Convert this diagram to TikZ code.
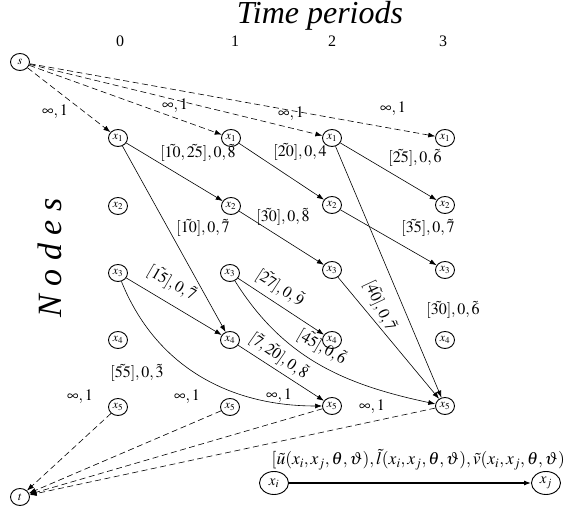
\documentclass[tikz,border=0pt]{standalone}
\usepackage{mathptmx}
\usepackage[no-math]{fontspec}
\setmainfont{Liberation Serif}
\usetikzlibrary{arrows.meta,shapes.geometric}
\tikzset{vtx/.style={ellipse,draw,line width=.9pt,minimum width=19pt,minimum height=17pt,inner sep=0pt,font=\fontsize{12}{12}\selectfont}, bigvtx/.style={ellipse,draw,line width=.9pt,minimum width=29pt,minimum height=23pt,inner sep=0pt,font=\fontsize{15}{15}\selectfont}, arr/.style={-{Latex[length=7pt,width=5pt]},line width=.6pt}, darr/.style={arr,dash pattern=on 6pt off 3.5pt}, lab/.style={font=\fontsize{16}{16}\selectfont,inner sep=1pt}}

\begin{document}
\begin{tikzpicture}[x=1pt,y=-1pt]
\useasboundingbox (0,0) rectangle (566,510);
% titles
\node[font=\fontsize{32}{32}\selectfont\itshape] (ttl) at (320,16) {Time periods};
\node[font=\fontsize{34}{34}\selectfont\itshape,rotate=90] (ylab) at (50,258) {N o d e s};
\node[lab](p0)at(120,41){0};\node[lab](p1)at(235,41){1};\node[lab](p2)at(332,41){2};\node[lab](p3)at(443,41){3};
% vertices
\node[vtx] (s) at (20,62) {$s$};\node[vtx] (t) at (20,497) {$t$};
\node[vtx](n01)at(118,138){$x_1$};\node[vtx](n11)at(231,138){$x_1$};\node[vtx](n21)at(332,138){$x_1$};\node[vtx](n31)at(445,138){$x_1$};
\node[vtx](n02)at(118,206){$x_2$};\node[vtx](n12)at(231,206){$x_2$};\node[vtx](n22)at(332,205){$x_2$};\node[vtx](n32)at(445,205){$x_2$};
\node[vtx](n03)at(118,273){$x_3$};\node[vtx](n13)at(230,273){$x_3$};\node[vtx](n23)at(332,270){$x_3$};\node[vtx](n33)at(445,270){$x_3$};
\node[vtx](n04)at(118,340){$x_4$};\node[vtx](n14)at(230,340){$x_4$};\node[vtx](n24)at(332,340){$x_4$};\node[vtx](n34)at(445,340){$x_4$};
\node[vtx](n05)at(118,407){$x_5$};\node[vtx](n15)at(230,407){$x_5$};\node[vtx](n25)at(332,406){$x_5$};\node[vtx](n35)at(445,406){$x_5$};
\node[bigvtx](xi)at(274,483){$x_i$};\node[bigvtx](xj)at(546,483){$x_j$};
% connectors
\draw[darr](s)--(n01);\draw[darr](s)--(n11);\draw[darr](s)--(n21);\draw[darr](s)--(n31);
\draw[arr](n01)--(n12);\draw[arr](n01)--(n14);\draw[arr](n11)--(n22);\draw[arr](n21)--(n32);\draw[arr](n21)--(n35);
\draw[arr](n12)--(n23);\draw[arr](n22)--(n33);\draw[arr](n03)--(n14);\draw[arr](n03) to[out=-68,in=180] (n25);
\draw[arr](n13)--(n24);\draw[arr](n13) to[out=-58,in=168] (n35);\draw[arr](n14)--(n25);\draw[arr](n23)--(n35);
\draw[darr](n05)--(t);\draw[darr](n15)--(t);\draw[darr](n25)--(t);\draw[darr](n35)--(t);
\draw[arr,line width=1.1pt](xi)--(xj);
% labels
\node[lab](l1)at(55,112){$\infty,1$};\node[lab](l2)at(175,106){$\infty,1$};\node[lab](l3)at(291,114){$\infty,1$};\node[lab](l4)at(393,109){$\infty,1$};
\node[lab](l5)at(198,153){$[\tilde{10},\tilde{25}],0,\tilde{8}$};\node[lab](l6)at(300,152){$[\tilde{20}],0,4$};\node[lab](l7)at(415,158){$[\tilde{25}],0,\tilde{6}$};
\node[lab](l8)at(203,228){$[\tilde{10}],0,\tilde{7}$};\node[lab](l9)at(283,217){$[\tilde{30}],0,\tilde{8}$};\node[lab](l10)at(428,228){$[\tilde{35}],0,\tilde{7}$};
\node[lab](l11)at(453,310){$[\tilde{30}],0,\tilde{6}$};\node[lab](l12)at(137,373){$[\tilde{55}],0,\tilde{3}$};
\node[lab,rotate=-30](l13)at(172,283){$[\tilde{15}],0,\tilde{7}$};\node[lab,rotate=-33](l14)at(280,288){$[\tilde{27}],0,\tilde{9}$};
\node[lab,rotate=-35](l15)at(279,356){$[\tilde{7},\tilde{20}],0,\tilde{8}$};\node[lab,rotate=-30](l16)at(322,347){$[\tilde{45}],0,\tilde{6}$};
\node[lab,rotate=-65](l17)at(380,306){$[\tilde{40}],0,\tilde{7}$};
\node[lab](l18)at(80,397){$\infty,1$};\node[lab](l19)at(187,397){$\infty,1$};\node[lab](l20)at(279,396){$\infty,1$};\node[lab](l21)at(372,407){$\infty,1$};
\node[lab,anchor=east,font=\fontsize{17.5}{17.5}\selectfont](l22)at(566,460){$[\tilde{u}(x_i,x_j,\theta,\vartheta),\tilde{l}(x_i,x_j,\theta,\vartheta),\tilde{v}(x_i,x_j,\theta,\vartheta)$};
\end{tikzpicture}
\end{document}
